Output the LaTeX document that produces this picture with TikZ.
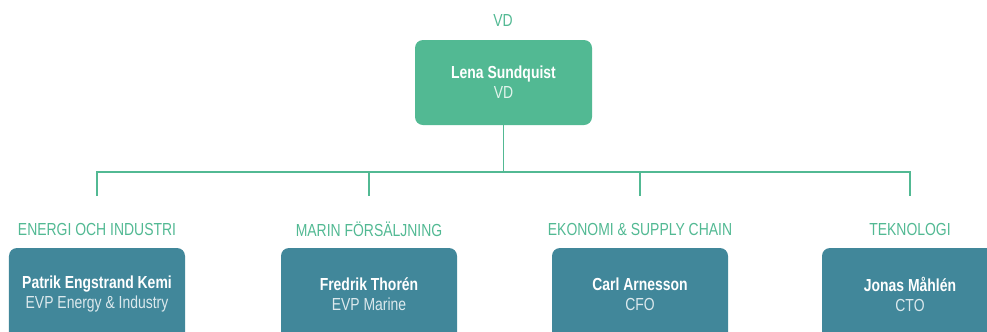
\documentclass[tikz,border=0pt]{standalone}
\usepackage{fontspec}
\setmainfont{Liberation Sans}[FakeStretch=0.8]
\usepackage{tikz}
\usetikzlibrary{positioning,calc}

\definecolor{leafgreen}{HTML}{52B993}
\definecolor{deepteal}{HTML}{41879A}
\definecolor{palegreen}{HTML}{E2F4EC}
\definecolor{paleteal}{HTML}{DCE9ED}

\begin{document}
\begin{tikzpicture}[x=1bp,y=-1bp,thick]
    % `chief' is the green box on top, `member' the teal boxes below.
    % `unit' is used for the green headings above each box.
    \tikzstyle{chief} = [fill=leafgreen,rounded corners=8bp,minimum width=177bp,minimum height=85bp,align=center,text=white,font=\fontsize{17.5}{20}\selectfont]
    \tikzstyle{member} = [fill=deepteal,rounded corners=8bp,minimum width=176bp,minimum height=92bp,align=center,text=white,font=\fontsize{17.5}{20}\selectfont]
    \tikzstyle{unit} = [text=leafgreen,font=\fontsize{17.5}{20}\selectfont]
    \tikzstyle{wire} = [draw=leafgreen,line width=1.3bp]
    %
    \useasboundingbox (0,0) rectangle (987,331);
    \clip (0,0) rectangle (987,331);
    %
    \node[unit] (vdtitle) at (503,20) {VD};
    \node[chief] (ceo) at (503.5,82.5) {\textbf{Lena Sundquist}\\\textcolor{palegreen}{VD}};
    %
    \node[unit] (u1) at (97,229) {ENERGI OCH INDUSTRI};
    \node[unit] (u2) at (369,229) {MARIN FÖRSÄLJNING};
    \node[unit] (u3) at (640,229) {EKONOMI \& SUPPLY CHAIN};
    \node[unit] (u4) at (910,229) {TEKNOLOGI};
    %
    \node[member] (m1) at (97,294) {\textbf{Patrik Engstrand Kemi}\\\textcolor{paleteal}{EVP Energy \& Industry}};
    \node[member] (m2) at (369,294) {\textbf{Fredrik Thorén}\\\textcolor{paleteal}{EVP Marine}};
    \node[member] (m3) at (640,294) {\textbf{Carl Arnesson}\\\textcolor{paleteal}{CFO}};
    \node[member] (m4) at (910,294) {\textbf{Jonas Måhlén}\\\textcolor{paleteal}{CTO}};
    %
    % Branch points on the bar and the free ends above the headings.
    \coordinate (bar) at (ceo.south |- 0,172);
    \foreach \i in {1,...,4} {
      \coordinate (top\i) at (u\i |- 0,172);
      \coordinate (tip\i) at (u\i |- 0,196);
    }
    % Draw lines.
    \draw[wire] (ceo.south) -- (bar);
    \draw[wire] (tip1) -- (top1) -- (top4) -- (tip4);
    \draw[wire] (top2) -- (tip2)   (top3) -- (tip3);
\end{tikzpicture}
\end{document}
